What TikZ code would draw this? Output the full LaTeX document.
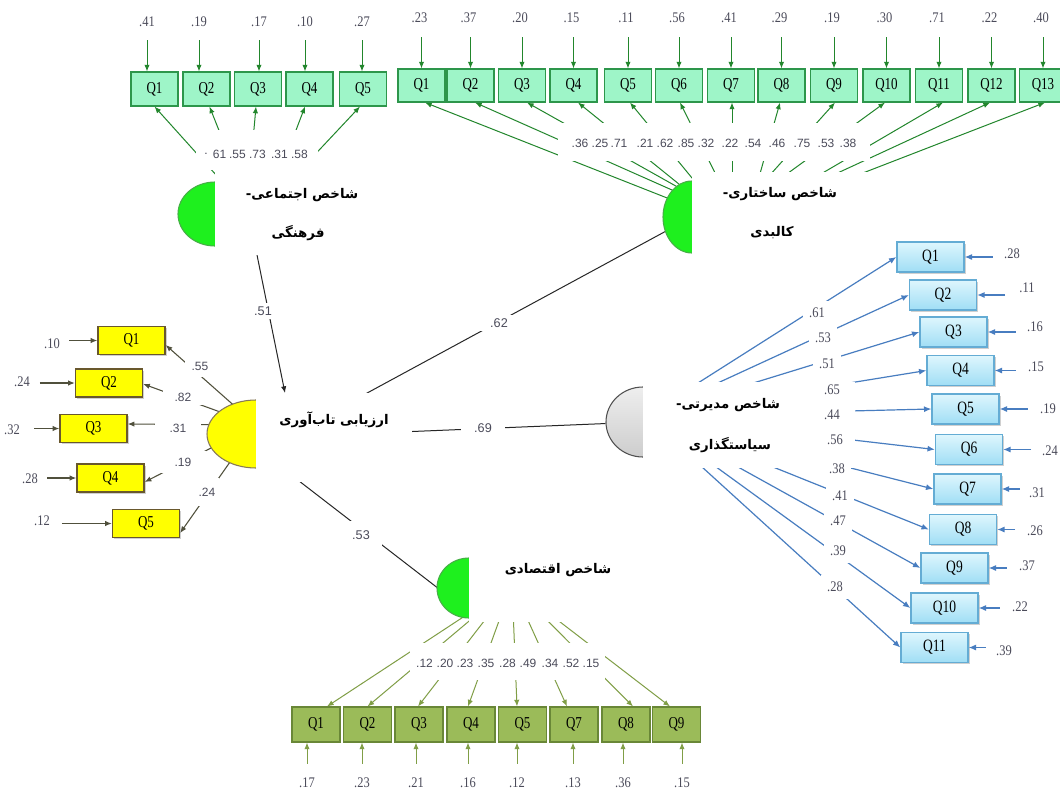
\documentclass[tikz,border=0pt]{standalone}
\usepackage{fontspec}
\setmainfont{Liberation Serif}
\newfontfamily\qfont[FakeStretch=0.78]{Liberation Serif}
\newfontfamily\nfont[FakeStretch=0.85]{Liberation Serif}
\newfontfamily\sfont{Liberation Sans}
\newfontfamily\fafont[Script=Arabic]{DejaVu Sans}
\TeXXeTstate=1
\usetikzlibrary{arrows.meta,shapes.geometric,calc,shadows}
\pgfdeclarelayer{bg}
\pgfdeclarelayer{lines}
\pgfdeclarelayer{masks}
\pgfdeclarelayer{top}
\pgfsetlayers{bg,lines,main,masks,top}
\definecolor{mint}{RGB}{158,245,200}
\definecolor{mintd}{RGB}{45,150,75}
\definecolor{garrc}{RGB}{34,134,44}
\definecolor{limef}{RGB}{30,240,30}
\definecolor{limed}{RGB}{70,175,70}
\definecolor{yelf}{RGB}{255,255,0}
\definecolor{yeld}{RGB}{105,88,45}
\definecolor{yarrc}{RGB}{80,80,60}
\definecolor{bluet}{RGB}{222,246,253}
\definecolor{blueb}{RGB}{160,222,245}
\definecolor{blued}{RGB}{100,172,212}
\definecolor{barrc}{RGB}{72,125,192}
\definecolor{olivef}{RGB}{155,187,89}
\definecolor{olived}{RGB}{105,135,55}
\definecolor{oarrc}{RGB}{128,158,70}
\definecolor{labc}{RGB}{75,75,90}
\definecolor{grayt}{RGB}{238,238,238}
\definecolor{grayb}{RGB}{205,205,205}
\definecolor{grayd}{RGB}{80,80,80}
\tikzset{
  qbox/.style={draw, line width=0.8pt, inner sep=0pt, text=black, font=\qfont\fontsize{12.5}{13}\selectfont},
  softshadow/.style={drop shadow={shadow xshift=1.2pt, shadow yshift=-1.2pt, opacity=0.3, fill=black!60}},
  tlbox/.style={qbox, fill=mint, draw=mintd, minimum width=35.25pt, minimum height=25.5pt},
  trbox/.style={qbox, fill=mint, draw=mintd, minimum width=35.25pt, minimum height=24.75pt},
  ybox/.style={qbox, softshadow, fill=yelf, draw=yeld, line width=1pt, minimum width=50.25pt, minimum height=21pt},
  bbox/.style={qbox, softshadow, top color=bluet, bottom color=blueb, draw=blued, line width=1pt, minimum width=50.25pt, minimum height=22.5pt, font=\qfont\fontsize{13}{14}\selectfont},
  obox/.style={qbox, fill=olivef, draw=olived, minimum width=36pt, minimum height=26.25pt},
  arrowtip/.style={-{Latex[length=5pt,width=4pt]}},
  garr/.style={arrowtip, draw=garrc, line width=0.75pt},
  yarr/.style={arrowtip, draw=yarrc, line width=0.8pt},
  barr/.style={-{Latex[length=5.5pt,width=4.5pt]}, draw=barrc, line width=0.9pt},
  oarr/.style={arrowtip, draw=oarrc, line width=0.75pt},
  kline/.style={draw=black!85, line width=0.75pt},
  elab/.style={text=labc, inner sep=1pt, font=\nfont\fontsize{11}{12}\selectfont},
  slab/.style={text=labc, inner sep=1pt, font=\sfont\fontsize{9}{10}\selectfont},
  plab/.style={text=labc, fill=white, font=\sfont\fontsize{9.5}{10}\selectfont},
  fa/.style={text=black, inner sep=1pt, font=\fafont\bfseries\fontsize{10}{12}\selectfont},
  construct/.style={ellipse, inner sep=0pt, line width=0.8pt},
}
\begin{document}
\begin{tikzpicture}[x=0.75pt,y=-0.75pt]
\clip (0,0) rectangle (1060,789);
\begin{pgfonlayer}{bg}
\fill[white] (0,0) rectangle (1060,789);
\end{pgfonlayer}

% ---------- constructs (ellipses) ----------
\node[construct, fill=limef, draw=limed, minimum width=55.5pt, minimum height=48pt] (socE) at (215,214) {};
\node[construct, fill=limef, draw=limed, minimum width=43.5pt, minimum height=54pt] (strE) at (692,217) {};
\node[construct, fill=yelf, draw=yeld!80, minimum width=73.5pt, minimum height=51pt] (resE) at (256,434) {};
\node[construct, top color=grayt, bottom color=grayb, draw=grayd, minimum width=55.5pt, minimum height=52.5pt] (grE) at (643,422) {};
\node[construct, fill=limef, draw=limed, minimum width=48pt, minimum height=45pt] (ecoE) at (469,588) {};

% ---------- indicator boxes ----------
\foreach \i/\x in {1/154.5,2/206.5,3/258,4/309.5,5/363}
  \node[tlbox] (tl\i) at (\x,89) {Q\i};
\foreach \i/\x in {1/421.5,2/470.5,3/522,4/573.5,5/628,6/679,7/731,8/781.5,9/834,10/886.5,11/939,12/991.5,13/1043}
  \node[trbox] (tr\i) at (\x,85.5) {Q\i};
\foreach \i/\x/\y in {1/131.5/340.5,2/109/383,3/93.5/428.5,4/110.5/478,5/146/523.5}
  \node[ybox] (yb\i) at (\x,\y) {Q\i};
\foreach \i/\x/\y in {1/930.5/257,2/943/295,3/953.5/332,4/960.5/370.5,5/965.5/409,6/969/449.5,7/967.5/489,8/963/529.5,9/954.5/568,10/944.5/608,11/934.5/647.5}
  \node[bbox] (bb\i) at (\x,\y) {Q\i};
\foreach \i/\q/\x in {1/1/316,2/2/367.5,3/3/419,4/4/471,5/5/522.5,6/7/574,7/8/626,8/9/676.5}
  \node[obox] (ob\i) at (\x,724.5) {Q\q};

% ---------- connectors ----------
\begin{pgfonlayer}{lines}
% social-cultural loadings
\foreach \i/\sx/\dx in {1/235/0,2/245/3,3/248/-2,4/271/-4.5,5/276/-3}{
  \coordinate (ls\i) at (\sx,196);
  \draw[garr] (ls\i) -- ($(tl\i.south)+(\dx,0)$);
}
% structural loadings
\foreach \i/\sx/\sy/\dx in {1/690/207/3.5,2/690/198/4.5,3/690/194/5,4/690/193/4.5,5/706/195/2,6/726/195/1,7/732/195/1,8/754/195/-1.5,9/752/195/1,10/758/195/-1.5,11/785/195/4,12/790/195/-1.5,13/806/195/2}{
  \coordinate (lt\i) at (\sx,\sy);
  \draw[garr] (lt\i) -- ($(tr\i.south)+(\dx,0)$);
}
% resilience loadings
\coordinate (ysrc) at (256,425);
\foreach \i/\dy in {1/4.5,2/1,3/-4.5,4/4,5/9.5}
  \draw[yarr] (ysrc) -- ($(yb\i.east)+(0,\dy)$);
% management loadings
\coordinate (bsrc) at (646,416);
\foreach \i in {1,...,11}
  \draw[barr] (bsrc) -- (bb\i.west);
% economic loadings
\coordinate (osrc) at (512,585);
\foreach \i/\dx in {1/11,2/0,3/-1,4/-3,5/-5.5,6/-7,7/7,8/-6.5}
  \draw[oarr] (osrc) -- ($(ob\i.north)+(\dx,0)$);
% structural paths
\coordinate (p51s) at (256,250);
\coordinate (p51e) at (285,393);
\draw[kline, arrowtip] (p51s) -- (p51e);
\coordinate (p62s) at (345,405);
\draw[kline] (p62s) -- (strE);
\coordinate (p69s) at (400,432);
\draw[kline] (p69s) -- (grE);
\coordinate (p53s) at (290,474);
\coordinate (p53e) at (452,599);
\draw[kline] (p53s) -- (p53e);
\end{pgfonlayer}

% error arrows
\foreach \i/\dx/\v in {1/-7.5/.41,2/-7.5/.19,3/1/.17,4/-4.5/.10,5/-1/.27}{
  \draw[garr] ($(tl\i.north)+(\dx,-31)$) -- ($(tl\i.north)+(\dx,0)$);
  \node[elab] (tle\i) at ($(tl\i.north)+(\dx,-50)$) {\v};
}
\foreach \i/\v in {1/.23,2/.37,3/.20,4/.15,5/.11,6/.56,7/.41,8/.29,9/.19,10/.30,11/.71,12/.22,13/.40}{
  \draw[garr] ($(tr\i.north)+(0,-31)$) -- (tr\i.north);
  \node[elab] (tre\i) at ($(tr\i.north)+(-2,-51)$) {\v};
}
\foreach \i/\len/\lx/\ly/\v in {1/28/52/344/.10,2/35/22/382/.24,3/25/12/430/.32,4/29/30/479/.28,5/50/42/521/.12}{
  \draw[yarr] ($(yb\i.west)+(-\len,0)$) -- (yb\i.west);
  \node[elab] (ybe\i) at (\lx,\ly) {\v};
}
\foreach \i/\len/\lx/\ly/\v in {1/28/1012/254/.28,2/28/1027/288/.11,3/28/1035/327/.16,4/21/1036/367/.15,5/28/1048/409/.19,6/28/1050/451/.24,7/18/1037/493/.31,8/18/1035/531/.26,9/18/1027/566/.37,10/21/1020/607/.22,11/17/1004/651/.39}{
  \draw[barr] ($(bb\i.east)+(\len,0)$) -- (bb\i.east);
  \node[elab] (bbe\i) at (\lx,\ly) {\v};
}
\foreach \i/\dx/\v in {1/-9/.17,2/-5.5/.23,3/-3/.21,4/-3/.16,5/-5.5/.12,6/-1/.13,7/-3/.36,8/5.5/.15}{
  \draw[oarr] ($(ob\i.south)+(\dx,21)$) -- ($(ob\i.south)+(\dx,0)$);
  \node[elab] (obe\i) at ($(ob\i.south)+(\dx,40)$) {\v};
}

% ---------- white text areas ----------
\begin{pgfonlayer}{masks}
\fill[white] (215,170) rectangle (385,255);
\fill[white] (196,130) rectangle (318,170);
\fill[white] (692,172) rectangle (880,262);
\fill[white] (558,123) rectangle (870,161);
\fill[white] (256,393) rectangle (412,482);
\fill[white] (643,382) rectangle (855,468);
\fill[white] (469,545) rectangle (625,622);
\fill[white] (410,643) rectangle (605,680);
\end{pgfonlayer}

% ---------- labels and titles ----------
\begin{pgfonlayer}{top}
\foreach \j/\x/\v in {1/206/.,2/219.5/61,3/237.5/.55,4/257.5/.73,5/279.5/.31,6/299.5/.58}
  \node[slab] (sl\j) at (\x,154) {\v};
\foreach \j/\x/\v in {1/580/.36,2/600/.25,3/619/.71,4/645/.21,5/665/.62,6/686/.85,7/706/.32,8/730/.22,9/753/.54,10/777/.46,11/802/.75,12/826/.53,13/848/.38}
  \node[slab] (stl\j) at (\x,143) {\v};
\foreach \j/\x/\v in {1/424.5/.12,2/445/.20,3/465/.23,4/486/.35,5/507.5/.28,6/528/.49,7/550/.34,8/571/.52,9/591/.15}
  \node[slab] (ol\j) at (\x,663) {\v};
\node[slab, fill=white, inner xsep=5pt, inner ysep=5pt] (yl1) at (200,366) {.55};
\node[slab, fill=white, inner xsep=9pt, inner ysep=3pt] (yl2) at (183,397) {.82};
\node[slab, fill=white, inner xsep=11pt, inner ysep=2pt] (yl3) at (178,428) {.31};
\node[slab, fill=white, inner xsep=11pt, inner ysep=5pt] (yl4) at (183,462) {.19};
\node[slab, fill=white, inner xsep=3pt, inner ysep=7pt] (yl5) at (207,492) {.24};
\foreach \j/\x/\y/\v in {1/817/313/.61,2/823/338/.53,3/827/364/.51,4/832/390/.65,5/832/415/.44,6/835/440/.56,7/837/469/.38,8/840/496/.41,9/838/521/.47,10/838/551/.39,11/835/587/.28}
  \node[elab, fill=white, inner sep=5pt] (bl\j) at (\x,\y) {\v};
\node[plab, inner sep=3pt] (pl51) at (263,311) {.51};
\node[plab, inner xsep=9pt, inner ysep=3pt] (pl62) at (499,323) {.62};
\node[plab, inner xsep=10pt, inner ysep=3pt] (pl69) at (483,428) {.69};
\node[plab, inner xsep=9pt, inner ysep=7pt] (pl53) at (361,535) {.53};
\node[fa] (tsoc1) at (302,195) {\beginR شاخص اجتماعی-\endR};
\node[fa] (tsoc2) at (298,233) {\beginR فرهنگی\endR};
\node[fa] (tstr1) at (780,194) {\beginR شاخص ساختاری-\endR};
\node[fa] (tstr2) at (772,233) {\beginR کالبدی\endR};
\node[fa] (tres) at (334,420) {\beginR ارزیابی تاب‌آوری\endR};
\node[fa] (tman1) at (728,405) {\beginR شاخص مدیرتی-\endR};
\node[fa] (tman2) at (730,445) {\beginR سیاستگذاری\endR};
\node[fa] (teco) at (558,570) {\beginR شاخص اقتصادی\endR};
\end{pgfonlayer}
\end{tikzpicture}
\end{document}
